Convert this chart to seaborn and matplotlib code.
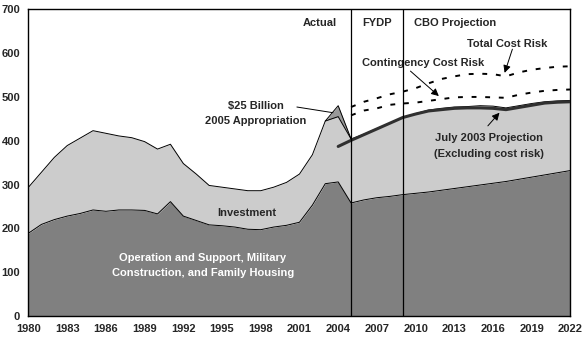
import matplotlib
matplotlib.use("Agg")
import matplotlib.pyplot as plt
import seaborn as sns

# Defense spending, billions of dollars
years = list(range(1980, 2023))
operations = [189, 209, 220, 228, 234, 242, 239, 242, 242, 241,
              233, 261, 228, 218, 208, 206, 203, 198, 197, 203,
              207, 214, 253, 302, 306, 258, 265, 270, 273, 277,
              280, 283, 287, 291, 295, 299, 303, 307, 312, 317,
              322, 327, 332]
total = [294, 328, 362, 389, 406, 423, 417, 411, 407, 398,
         381, 392, 348, 324, 298, 294, 290, 286, 286, 294,
         305, 324, 368, 445, 455, 404, 415, 428, 440, 453,
         462, 470, 474, 477, 478, 480, 479, 475, 480, 485,
         489, 491, 492]

supp_years = [2003, 2004, 2005]
supp_top = [445, 480, 404]

july_years = list(range(2004, 2023))
july_2003 = [387, 401, 414, 427, 440, 453, 461, 468, 471, 474,
             475, 475, 474, 471, 476, 481, 486, 488, 489]

risk_years = list(range(2005, 2023))
contingency_risk = [458, 469, 474, 482, 485, 487, 491, 495, 499, 500,
                    500, 499, 498, 505, 510, 514, 516, 517]
total_risk = [477, 489, 497, 506, 512, 520, 531, 541, 547, 552,
              553, 552, 547, 556, 562, 566, 569, 570]

period_breaks = [2005, 2009]
xticks = list(range(1980, 2023, 3))
yticks = list(range(0, 701, 100))

sns.set_style("white")
plt.rcParams["font.family"] = ["Liberation Sans", "DejaVu Sans"]
plt.rcParams["font.weight"] = "bold"

fig = plt.figure(figsize=(5.84, 3.40), dpi=100)
ax = fig.add_axes([0.0488, 0.0706, 0.9280, 0.9020])

dark = "#808080"
light = "#cccccc"
mid = "#999999"

ax.fill_between(years, 0, operations, color=dark, lw=0, zorder=1)
ax.fill_between(years, operations, total, color=light, lw=0, zorder=1)
supp_base = [total[years.index(y)] for y in supp_years]
ax.fill_between(supp_years, supp_base, supp_top, color=mid, lw=0, zorder=1)

sns.lineplot(x=years, y=operations, ax=ax, color="black", linewidth=0.7, zorder=2)
sns.lineplot(x=years, y=total, ax=ax, color="black", linewidth=0.7, zorder=2)
sns.lineplot(x=supp_years, y=supp_top, ax=ax, color="black", linewidth=0.7, zorder=2)

sns.lineplot(x=july_years, y=july_2003, ax=ax, color="#303030", linewidth=2.2, zorder=3)
sns.lineplot(x=risk_years, y=contingency_risk, ax=ax, color="black",
             linewidth=1.4, linestyle=(0, (2.5, 4.5)), zorder=3)
sns.lineplot(x=risk_years, y=total_risk, ax=ax, color="black",
             linewidth=1.4, linestyle=(0, (2.5, 4.5)), zorder=3)

for xb in period_breaks:
    ax.axvline(xb, color="black", linewidth=0.9, zorder=4)

ax.set_xlim(1980, 2022)
ax.set_ylim(0, 700)
ax.set_xticks(xticks)
ax.set_yticks(yticks)
ax.tick_params(direction="in", length=5, width=1, labelsize=8, pad=6, color="black")
for lab in ax.get_xticklabels() + ax.get_yticklabels():
    lab.set_fontweight("bold")
for s in ax.spines.values():
    s.set_color("black")
    s.set_linewidth(1.0)
ax.set_xlabel("")
ax.set_ylabel("")

fs = 8
ax.text(1993.5, 132, "Operation and Support, Military", color="white",
        ha="center", va="center", fontsize=fs, fontweight="bold", zorder=5)
ax.text(1993.5, 98, "Construction, and Family Housing", color="white",
        ha="center", va="center", fontsize=fs, fontweight="bold", zorder=5)
ax.text(1996.9, 236, "Investment", ha="center", va="center",
        fontsize=fs, fontweight="bold", zorder=5)
ax.text(1997.6, 480, "$25 Billion", ha="center", va="center",
        fontsize=fs, fontweight="bold", zorder=5)
ax.text(1997.6, 445, "2005 Appropriation", ha="center", va="center",
        fontsize=fs, fontweight="bold", zorder=5)
ax.plot([2000.8, 2003.6], [477, 464], color="black", linewidth=0.7, zorder=5)

ax.text(2002.6, 668, "Actual", ha="center", va="center", fontsize=fs, fontweight="bold")
ax.text(2007.0, 668, "FYDP", ha="center", va="center", fontsize=fs, fontweight="bold")
ax.text(2013.1, 668, "CBO Projection", ha="center", va="center", fontsize=fs, fontweight="bold")

ax.text(2017.1, 620, "Total Cost Risk", ha="center", va="center", fontsize=fs, fontweight="bold")
ax.text(2010.6, 577, "Contingency Cost Risk", ha="center", va="center", fontsize=fs, fontweight="bold")
ax.text(2015.7, 407, "July 2003 Projection", ha="center", va="center", fontsize=fs, fontweight="bold")
ax.text(2015.7, 370, "(Excluding cost risk)", ha="center", va="center", fontsize=fs, fontweight="bold")

arrow = dict(arrowstyle="-|>", color="black", lw=0.7, mutation_scale=11, shrinkA=0, shrinkB=0)
ax.annotate("", xy=(2016.9, 555), xytext=(2017.5, 609), arrowprops=arrow, zorder=6)
ax.annotate("", xy=(2011.8, 502), xytext=(2009.6, 559), arrowprops=arrow, zorder=6)
ax.annotate("", xy=(2016.5, 464), xytext=(2015.6, 434), arrowprops=arrow, zorder=6)

fig.savefig("out.png", dpi=100)
